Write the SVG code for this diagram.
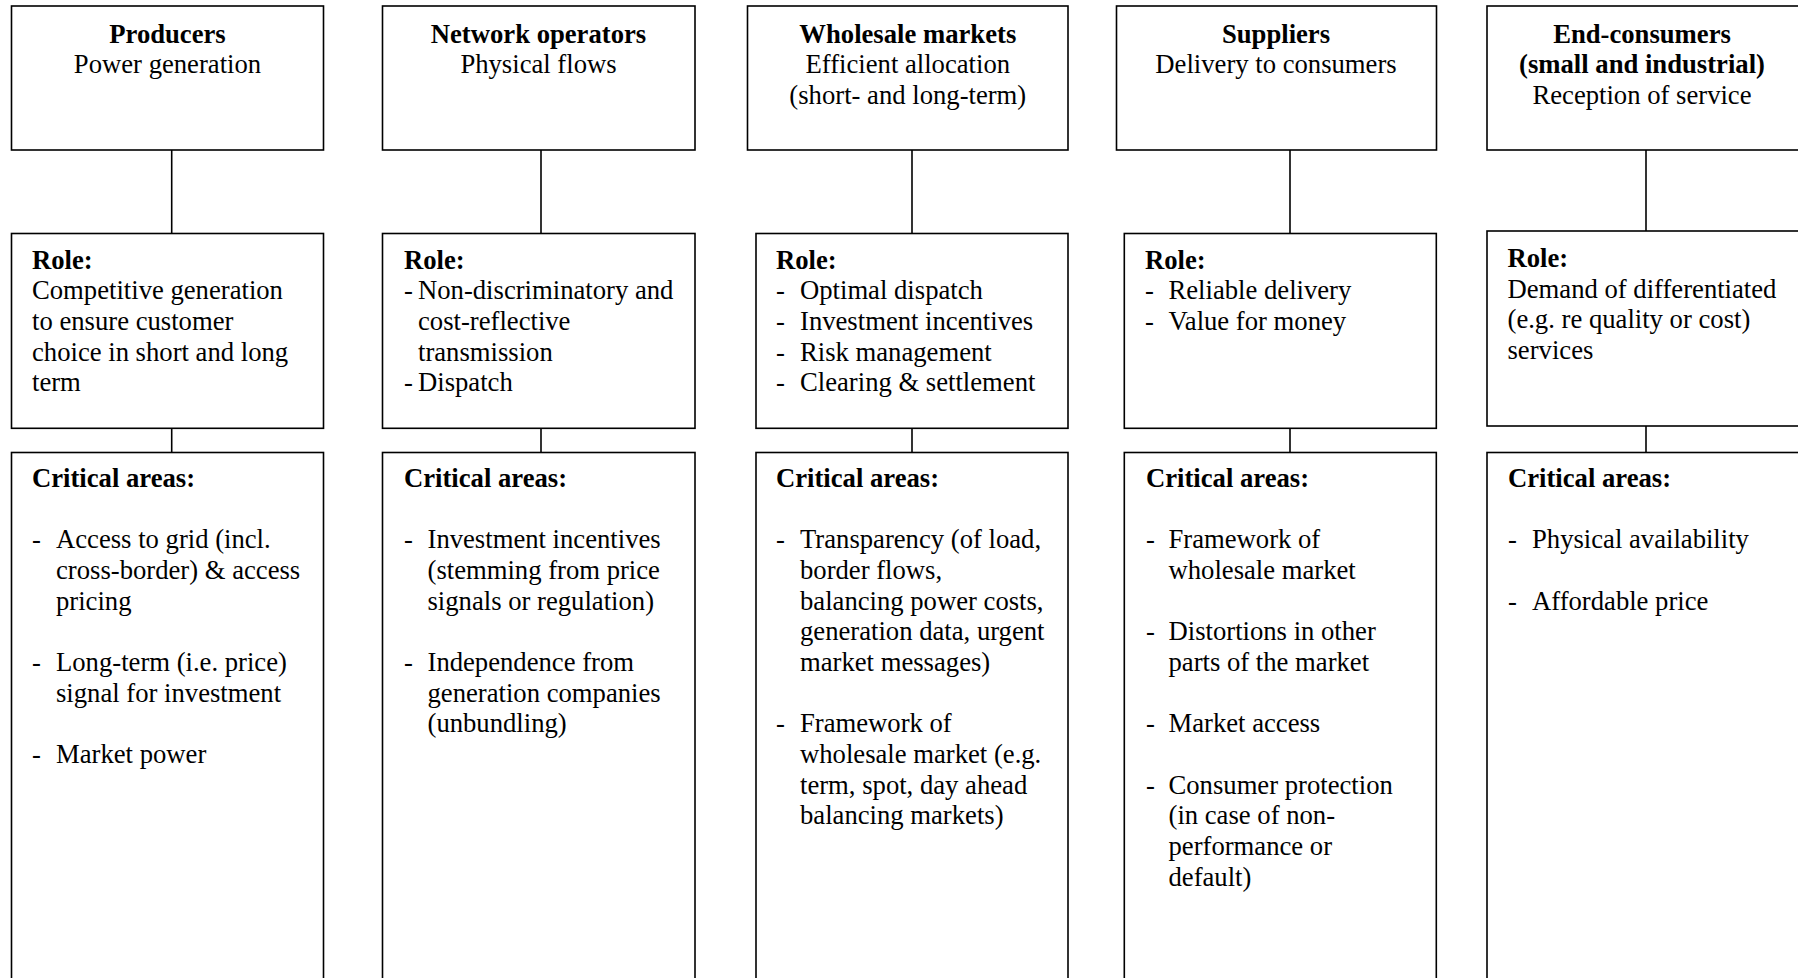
<svg xmlns="http://www.w3.org/2000/svg" width="1798" height="978" viewBox="0 0 1798 978">
<style>
rect.box{fill:#fff;stroke:#000;stroke-width:1.6}
line.conn{stroke:#000;stroke-width:1.6}
text{font-family:"Liberation Serif","Times New Roman",serif;font-size:26.67px;fill:#000}
.b{font-weight:bold}
.c{text-anchor:middle}
</style>
<rect width="1798" height="978" fill="#fff"/>
<g id="connectors">
<line class="conn" x1="171.7" y1="150" x2="171.7" y2="233.5"/>
<line class="conn" x1="171.7" y1="428.3" x2="171.7" y2="452.5"/>
<line class="conn" x1="541" y1="150" x2="541" y2="233.5"/>
<line class="conn" x1="541" y1="428.3" x2="541" y2="452.5"/>
<line class="conn" x1="912" y1="150" x2="912" y2="233.5"/>
<line class="conn" x1="912" y1="428.3" x2="912" y2="452.5"/>
<line class="conn" x1="1290" y1="150" x2="1290" y2="233.5"/>
<line class="conn" x1="1290" y1="428.3" x2="1290" y2="452.5"/>
<line class="conn" x1="1646" y1="150" x2="1646" y2="231"/>
<line class="conn" x1="1646" y1="426" x2="1646" y2="452.5"/>
</g>
<g id="producers">
<rect class="box" x="11.5" y="6" width="312" height="144"/>
<text class="c b" x="167.5" y="42.7">Producers</text>
<text class="c" x="167.5" y="73.1">Power generation</text>
</g>
<g id="producers-role">
<rect class="box" x="11.5" y="233.5" width="312" height="194.8"/>
<text class="b" x="32" y="268.5">Role:</text>
<text x="32" y="299.2">Competitive generation</text>
<text x="32" y="329.9">to ensure customer</text>
<text x="32" y="360.6">choice in short and long</text>
<text x="32" y="391.3">term</text>
</g>
<g id="producers-critical">
<rect class="box" x="11.5" y="452.5" width="312" height="540"/>
<text class="b" x="32" y="486.7">Critical areas:</text>
<text x="32" y="548.1">-</text><text x="56" y="548.1">Access to grid (incl.</text>
<text x="56" y="578.8">cross-border) &amp; access</text>
<text x="56" y="609.5">pricing</text>
<text x="32" y="670.9">-</text><text x="56" y="670.9">Long-term (i.e. price)</text>
<text x="56" y="701.6">signal for investment</text>
<text x="32" y="763">-</text><text x="56" y="763">Market power</text>
</g>
<g id="network">
<rect class="box" x="382.5" y="6" width="312.5" height="144"/>
<text class="c b" x="538.5" y="42.7">Network operators</text>
<text class="c" x="538.5" y="73.1">Physical flows</text>
</g>
<g id="network-role">
<rect class="box" x="382.5" y="233.5" width="312.5" height="194.8"/>
<text class="b" x="404" y="268.5">Role:</text>
<text x="404" y="299.2">-</text><text x="418" y="299.2">Non-discriminatory and</text>
<text x="418" y="329.9">cost-reflective</text>
<text x="418" y="360.6">transmission</text>
<text x="404" y="391.3">-</text><text x="418" y="391.3">Dispatch</text>
</g>
<g id="network-critical">
<rect class="box" x="382.5" y="452.5" width="312.5" height="540"/>
<text class="b" x="404" y="486.7">Critical areas:</text>
<text x="404" y="548.1">-</text><text x="427.5" y="548.1">Investment incentives</text>
<text x="427.5" y="578.8">(stemming from price</text>
<text x="427.5" y="609.5">signals or regulation)</text>
<text x="404" y="670.9">-</text><text x="427.5" y="670.9">Independence from</text>
<text x="427.5" y="701.6">generation companies</text>
<text x="427.5" y="732.3">(unbundling)</text>
</g>
<g id="wholesale">
<rect class="box" x="747.5" y="6" width="320.5" height="144"/>
<text class="c b" x="907.8" y="42.7">Wholesale markets</text>
<text class="c" x="907.8" y="73.1">Efficient allocation</text>
<text class="c" x="907.8" y="103.5">(short- and long-term)</text>
</g>
<g id="wholesale-role">
<rect class="box" x="756" y="233.5" width="312" height="194.8"/>
<text class="b" x="776" y="268.5">Role:</text>
<text x="776" y="299.2">-</text><text x="800" y="299.2">Optimal dispatch</text>
<text x="776" y="329.9">-</text><text x="800" y="329.9">Investment incentives</text>
<text x="776" y="360.6">-</text><text x="800" y="360.6">Risk management</text>
<text x="776" y="391.3">-</text><text x="800" y="391.3">Clearing &amp; settlement</text>
</g>
<g id="wholesale-critical">
<rect class="box" x="756" y="452.5" width="312" height="540"/>
<text class="b" x="776" y="486.7">Critical areas:</text>
<text x="776" y="548.1">-</text><text x="800" y="548.1">Transparency (of load,</text>
<text x="800" y="578.8">border flows,</text>
<text x="800" y="609.5">balancing power costs,</text>
<text x="800" y="640.2">generation data, urgent</text>
<text x="800" y="670.9">market messages)</text>
<text x="776" y="732.3">-</text><text x="800" y="732.3">Framework of</text>
<text x="800" y="763">wholesale market (e.g.</text>
<text x="800" y="793.7">term, spot, day ahead</text>
<text x="800" y="824.4">balancing markets)</text>
</g>
<g id="suppliers">
<rect class="box" x="1116.5" y="6" width="320" height="144"/>
<text class="c b" x="1276" y="42.7">Suppliers</text>
<text class="c" x="1276" y="73.1">Delivery to consumers</text>
</g>
<g id="suppliers-role">
<rect class="box" x="1124.3" y="233.5" width="312" height="194.8"/>
<text class="b" x="1145" y="268.5">Role:</text>
<text x="1145" y="299.2">-</text><text x="1168.5" y="299.2">Reliable delivery</text>
<text x="1145" y="329.9">-</text><text x="1168.5" y="329.9">Value for money</text>
</g>
<g id="suppliers-critical">
<rect class="box" x="1124.3" y="452.5" width="312" height="540"/>
<text class="b" x="1146" y="486.7">Critical areas:</text>
<text x="1146" y="548.1">-</text><text x="1168.5" y="548.1">Framework of</text>
<text x="1168.5" y="578.8">wholesale market</text>
<text x="1146" y="640.2">-</text><text x="1168.5" y="640.2">Distortions in other</text>
<text x="1168.5" y="670.9">parts of the market</text>
<text x="1146" y="732.3">-</text><text x="1168.5" y="732.3">Market access</text>
<text x="1146" y="793.7">-</text><text x="1168.5" y="793.7">Consumer protection</text>
<text x="1168.5" y="824.4">(in case of non-</text>
<text x="1168.5" y="855.1">performance or</text>
<text x="1168.5" y="885.8">default)</text>
</g>
<g id="endconsumers">
<rect class="box" x="1487" y="6" width="313" height="144"/>
<text class="c b" x="1642" y="42.7">End-consumers</text>
<text class="c b" x="1642" y="73.1">(small and industrial)</text>
<text class="c" x="1642" y="103.5">Reception of service</text>
</g>
<g id="endconsumers-role">
<rect class="box" x="1487" y="231" width="313" height="195"/>
<text class="b" x="1507.5" y="267">Role:</text>
<text x="1507.5" y="297.7">Demand of differentiated</text>
<text x="1507.5" y="328.4">(e.g. re quality or cost)</text>
<text x="1507.5" y="359.1">services</text>
</g>
<g id="endconsumers-critical">
<rect class="box" x="1487" y="452.5" width="313" height="540"/>
<text class="b" x="1508" y="486.7">Critical areas:</text>
<text x="1508" y="548.1">-</text><text x="1532" y="548.1">Physical availability</text>
<text x="1508" y="609.5">-</text><text x="1532" y="609.5">Affordable price</text>
</g>
</svg>
